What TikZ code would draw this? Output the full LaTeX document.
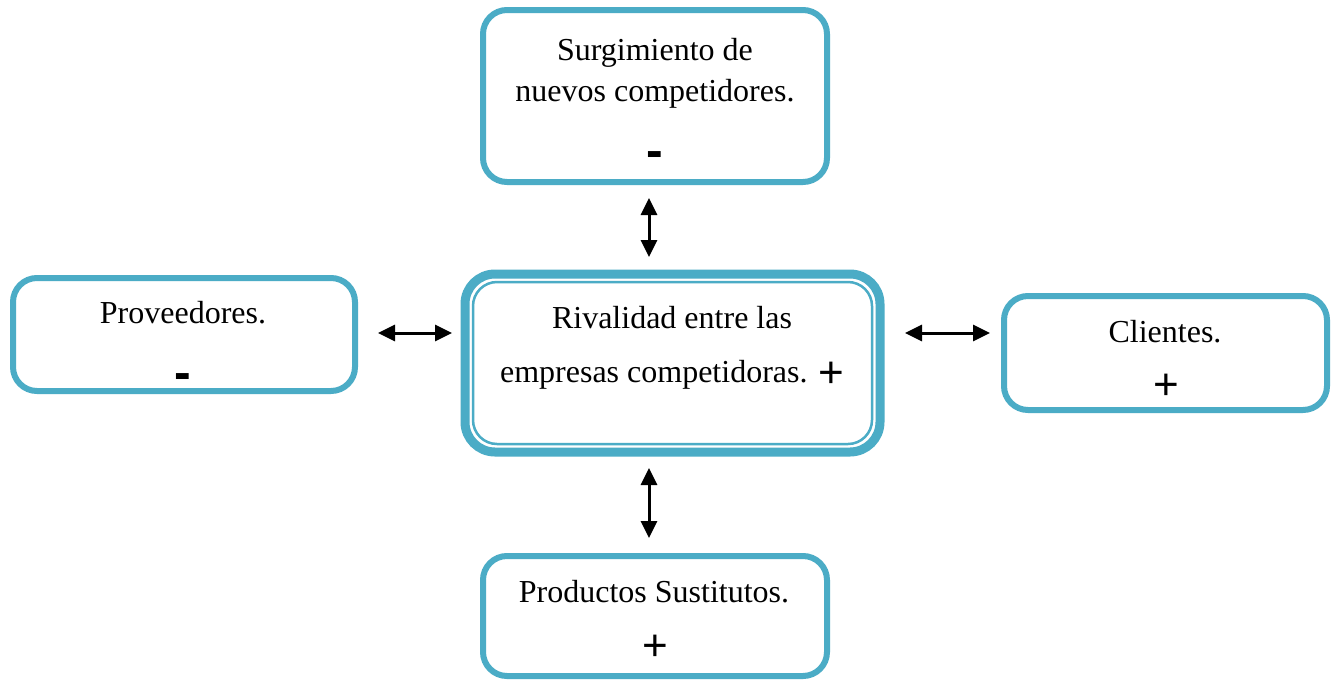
\documentclass[tikz,border=0pt]{standalone}
\usepackage{fontspec}
\setmainfont{Liberation Serif}
\newfontfamily\signfont{Liberation Sans}
\usetikzlibrary{arrows.meta}
\definecolor{boxblue}{HTML}{4BACC6}
\tikzset{
  box/.style={draw=boxblue, line width=6pt, rounded corners=24pt, fill=white, inner sep=0pt, outer sep=0pt},
  outerbox/.style={draw=boxblue, line width=9pt, rounded corners=30pt, fill=white, inner sep=0pt, outer sep=0pt},
  innerbox/.style={draw=boxblue, line width=2.5pt, rounded corners=24pt, inner sep=0pt, outer sep=0pt},
  txt/.style={anchor=base, inner sep=0pt, font=\fontsize{32}{40}\selectfont, align=center},
  plus/.style={inner sep=0pt, font=\signfont\fontsize{44}{44}\selectfont},
  minus/.style={inner sep=0pt, font=\signfont\bfseries\fontsize{50}{50}\selectfont},
  arr/.style={line width=3pt, {Triangle[length=17pt,width=16pt]}-{Triangle[length=17pt,width=16pt]}}
}
\begin{document}
\begin{tikzpicture}[x=1pt,y=-1pt]
\useasboundingbox[fill=white] (0,0) rectangle (1331,681);
% boxes
\node[box, minimum width=344pt, minimum height=172pt] (top) at (655,96) {};
\node[box, minimum width=342pt, minimum height=113pt] (prov) at (184,334.5) {};
\node[box, minimum width=323pt, minimum height=114pt] (cli) at (1165.5,353) {};
\node[box, minimum width=344pt, minimum height=120pt] (bot) at (655,616) {};
\node[outerbox, minimum width=415pt, minimum height=178pt] (center) at (672.5,363) {};
\node[innerbox, minimum width=399pt, minimum height=162pt] (centerin) at (672.5,363) {};
% texts
\node[txt] (toptxt1) at (655,60) {Surgimiento de};
\node[txt] (toptxt2) at (655,101) {nuevos competidores.};
\node[minus] (topsign) at (655,160) {-};
\node[txt] (provtxt) at (183,323) {Proveedores.};
\node[minus] (provsign) at (183,382) {-};
\node[txt] (cen1) at (672,328) {Rivalidad entre las};
\node[txt] (cen2) at (672,382) {empresas competidoras. {\signfont\fontsize{44}{44}\selectfont\raisebox{-5pt}{+}}};
\node[txt] (clitxt) at (1165,342) {Clientes.};
\node[plus] (clisign) at (1166,387) {+};
\node[txt] (bottxt) at (654,602) {Productos Sustitutos.};
\node[plus] (botsign) at (655,648) {+};
% connectors
\coordinate (ax) at (649,0);
\coordinate (ay) at (0,333);
\draw[arr, shorten <=16pt, shorten >=17pt] (top.south -| ax) -- (center.north -| ax);
\draw[arr, shorten <=16pt, shorten >=18pt] (center.south -| ax) -- (bot.north -| ax);
\draw[arr, shorten <=23pt, shorten >=13pt] (prov.east |- ay) -- (center.west |- ay);
\draw[arr, shorten <=25pt, shorten >=14pt] (center.east |- ay) -- (cli.west |- ay);
\end{tikzpicture}
\end{document}
